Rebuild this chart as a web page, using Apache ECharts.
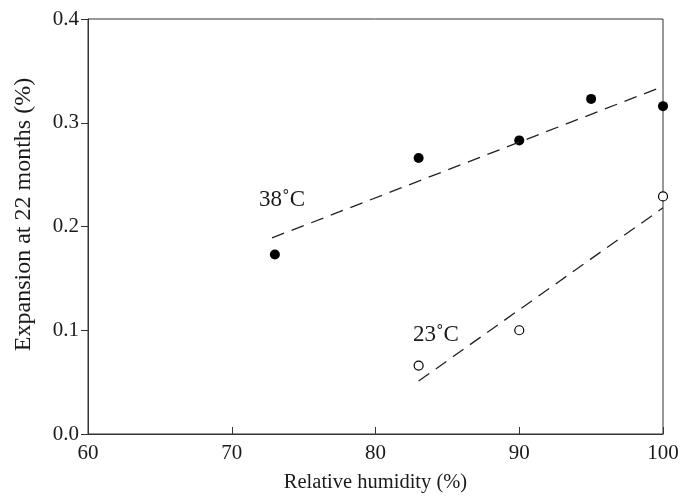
<!DOCTYPE html>
<html><head><meta charset="utf-8">
<script src="https://cdn.jsdelivr.net/npm/echarts@6/dist/echarts.min.js"></script>
<style>html,body{margin:0;padding:0;background:#fff}#c{width:686px;height:498px}</style>
</head><body><div id="c"></div>
<script>
var hot = [[73,0.173],[83,0.266],[90,0.283],[95,0.323],[100,0.316]];
var cold = [[83,0.066],[90,0.100],[100,0.229]];
var hotFit = [[72.8,0.189],[100,0.335]];
var coldFit = [[83,0.051],[100,0.218]];
var labels = [[73.5,0.2255,'38˚C'],[84.2,0.0954,'23˚C']];
var xTicks = [60,70,80,90,100];
var yTicks = [0.0,0.1,0.2,0.3,0.4];

var font = '"Liberation Serif", "DejaVu Serif", serif';
var txt = '#1a1a1a';
var chart = echarts.init(document.getElementById('c'));
chart.setOption({
  animation:false,
  grid:{left:88,right:23,top:19,bottom:64,show:true,borderColor:'#333',borderWidth:1},
  xAxis:{type:'value',min:xTicks[0],max:xTicks[xTicks.length-1],interval:10,
    name:'Relative humidity (%)',nameLocation:'middle',nameGap:38,
    nameTextStyle:{fontFamily:font,fontSize:20.5,color:txt},
    axisLine:{lineStyle:{color:'#333',width:1}},
    axisTick:{inside:true,length:7,lineStyle:{color:'#333'}},
    axisLabel:{fontFamily:font,fontSize:21,color:txt,margin:9},
    splitLine:{show:false}},
  yAxis:{type:'value',min:yTicks[0],max:yTicks[yTicks.length-1],interval:0.1,
    name:'Expansion at 22 months (%)',nameLocation:'middle',nameGap:52,
    nameTextStyle:{fontFamily:font,fontSize:24,color:txt,padding:[0,0,0,24]},
    axisLine:{show:true,lineStyle:{color:'#333',width:1}},
    axisTick:{show:true,inside:false,length:7,lineStyle:{color:'#333'}},
    axisLabel:{fontFamily:font,fontSize:21,color:txt,margin:9,formatter:function(v){return v.toFixed(1);}},
    splitLine:{show:false}},
  series:[
    {type:'line',data:hotFit,symbol:'none',lineStyle:{color:'#222',width:1.3,type:[13,8]}},
    {type:'line',data:coldFit,symbol:'none',lineStyle:{color:'#222',width:1.3,type:[13,8]}},
    {type:'scatter',data:hot,symbol:'circle',symbolSize:10,itemStyle:{color:'#000',opacity:1}},
    {type:'scatter',data:cold,symbol:'circle',symbolSize:9,itemStyle:{color:'#fff',borderColor:'#000',borderWidth:1.2,opacity:1}},
    {type:'scatter',data:labels,symbolSize:0,silent:true,itemStyle:{opacity:1},
      label:{show:true,position:'inside',formatter:function(p){return p.data[2];},
        fontFamily:font,fontSize:23,color:txt,opacity:1}}
  ]
});
</script></body></html>
